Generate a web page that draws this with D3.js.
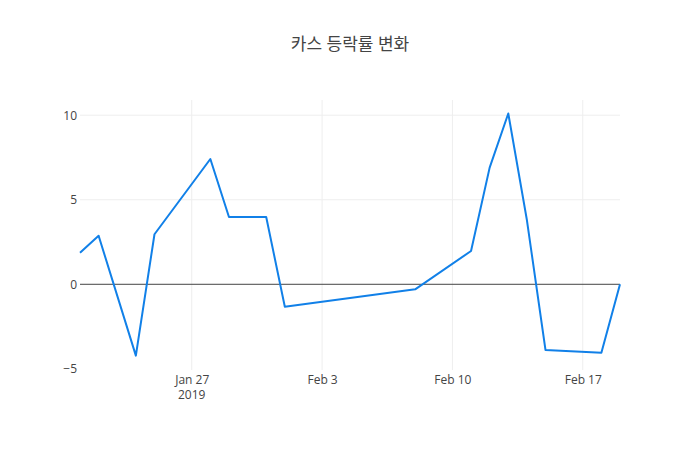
<!DOCTYPE html>
<html>
<head>
<meta charset="utf-8">
<script src="https://cdn.jsdelivr.net/npm/d3@7"></script>
<style>
  body { margin: 0; background: #fff; }
  text { font-family: "Open Sans", "Noto Sans CJK KR", sans-serif; }
</style>
</head>
<body>
<script>
// trading days and daily change (%)
var dates = ["2019-01-21", "2019-01-22", "2019-01-24", "2019-01-25", "2019-01-28",
    "2019-01-29", "2019-01-31", "2019-02-01", "2019-02-08", "2019-02-11",
    "2019-02-12", "2019-02-13", "2019-02-14", "2019-02-15", "2019-02-18", "2019-02-19"];
var changes = [1.86, 2.87, -4.22, 2.96, 7.41, 3.98, 3.98, -1.33, -0.30, 1.97,
    6.9, 10.1, 3.8, -3.89, -4.05, 0.0];
var yTicks = [-5, 0, 5, 10];
var xTicks = ["2019-01-27", "2019-02-03", "2019-02-10", "2019-02-17"];
var title = "카스 등락률 변화";

var width = 700, height = 450;
var margin = {left: 80, right: 80, top: 100, bottom: 80};

var parse = d3.timeParse("%Y-%m-%d");
var data = dates.map(function(d, i) {
    return {date: parse(d), value: changes[i]};
});

var svg = d3.select("body").append("svg")
    .attr("width", width)
    .attr("height", height);

var x = d3.scaleTime()
    .domain(d3.extent(data, function(d) { return d.date; }))
    .range([margin.left, width - margin.right]);

var y = d3.scaleLinear()
    .domain([-5.07, 10.9])
    .range([height - margin.bottom, margin.top]);

// grid lines
svg.append("g")
    .selectAll("line")
    .data(xTicks.map(parse))
    .enter().append("line")
    .attr("x1", function(d) { return x(d); })
    .attr("x2", function(d) { return x(d); })
    .attr("y1", margin.top)
    .attr("y2", height - margin.bottom)
    .style("stroke", "#eee");

// no grid at the bottom edge (-5) or at zero
svg.append("g")
    .selectAll("line")
    .data(yTicks.filter(function(d) { return d > 0; }))
    .enter().append("line")
    .attr("x1", margin.left)
    .attr("x2", width - margin.right)
    .attr("y1", function(d) { return y(d); })
    .attr("y2", function(d) { return y(d); })
    .style("stroke", "#eee");

// zero line
svg.append("line")
    .attr("x1", margin.left)
    .attr("x2", width - margin.right)
    .attr("y1", y(0))
    .attr("y2", y(0))
    .style("stroke", "#444")
    .style("stroke-width", 1);

// y axis labels
var yAxis = d3.axisLeft(y)
    .tickValues(yTicks)
    .tickSize(0)
    .tickPadding(3)
    .tickFormat(function(d) { return d < 0 ? "\u2212" + Math.abs(d) : d; });

svg.append("g")
    .attr("transform", "translate(" + margin.left + ",0)")
    .call(yAxis)
    .call(function(g) { g.select(".domain").remove(); })
    .selectAll("text")
    .style("font-size", "12px")
    .style("fill", "#444");

// x axis labels
var fmt = d3.timeFormat("%b %-d");
var xAxis = d3.axisBottom(x)
    .tickValues(xTicks.map(parse))
    .tickSize(0)
    .tickPadding(5)
    .tickFormat(fmt);

var xg = svg.append("g")
    .attr("transform", "translate(0," + (height - margin.bottom) + ")")
    .call(xAxis)
    .call(function(g) { g.select(".domain").remove(); });

xg.selectAll("text")
    .style("font-size", "12px")
    .style("fill", "#444");

// year under first tick
xg.append("text")
    .attr("x", x(parse(xTicks[0])))
    .attr("y", 29)
    .attr("text-anchor", "middle")
    .style("font-size", "12px")
    .style("fill", "#444")
    .text("2019");

// the line
var line = d3.line()
    .x(function(d) { return x(d.date); })
    .y(function(d) { return y(d.value); });

svg.append("path")
    .datum(data)
    .attr("d", line)
    .style("fill", "none")
    .style("stroke", "#1180e8")
    .style("stroke-width", 2)
    .style("stroke-linejoin", "round");

// title
svg.append("text")
    .attr("x", width / 2)
    .attr("y", 50)
    .attr("text-anchor", "middle")
    .style("font-size", "17px")
    .style("fill", "#444")
    .text(title);
</script>
</body>
</html>
